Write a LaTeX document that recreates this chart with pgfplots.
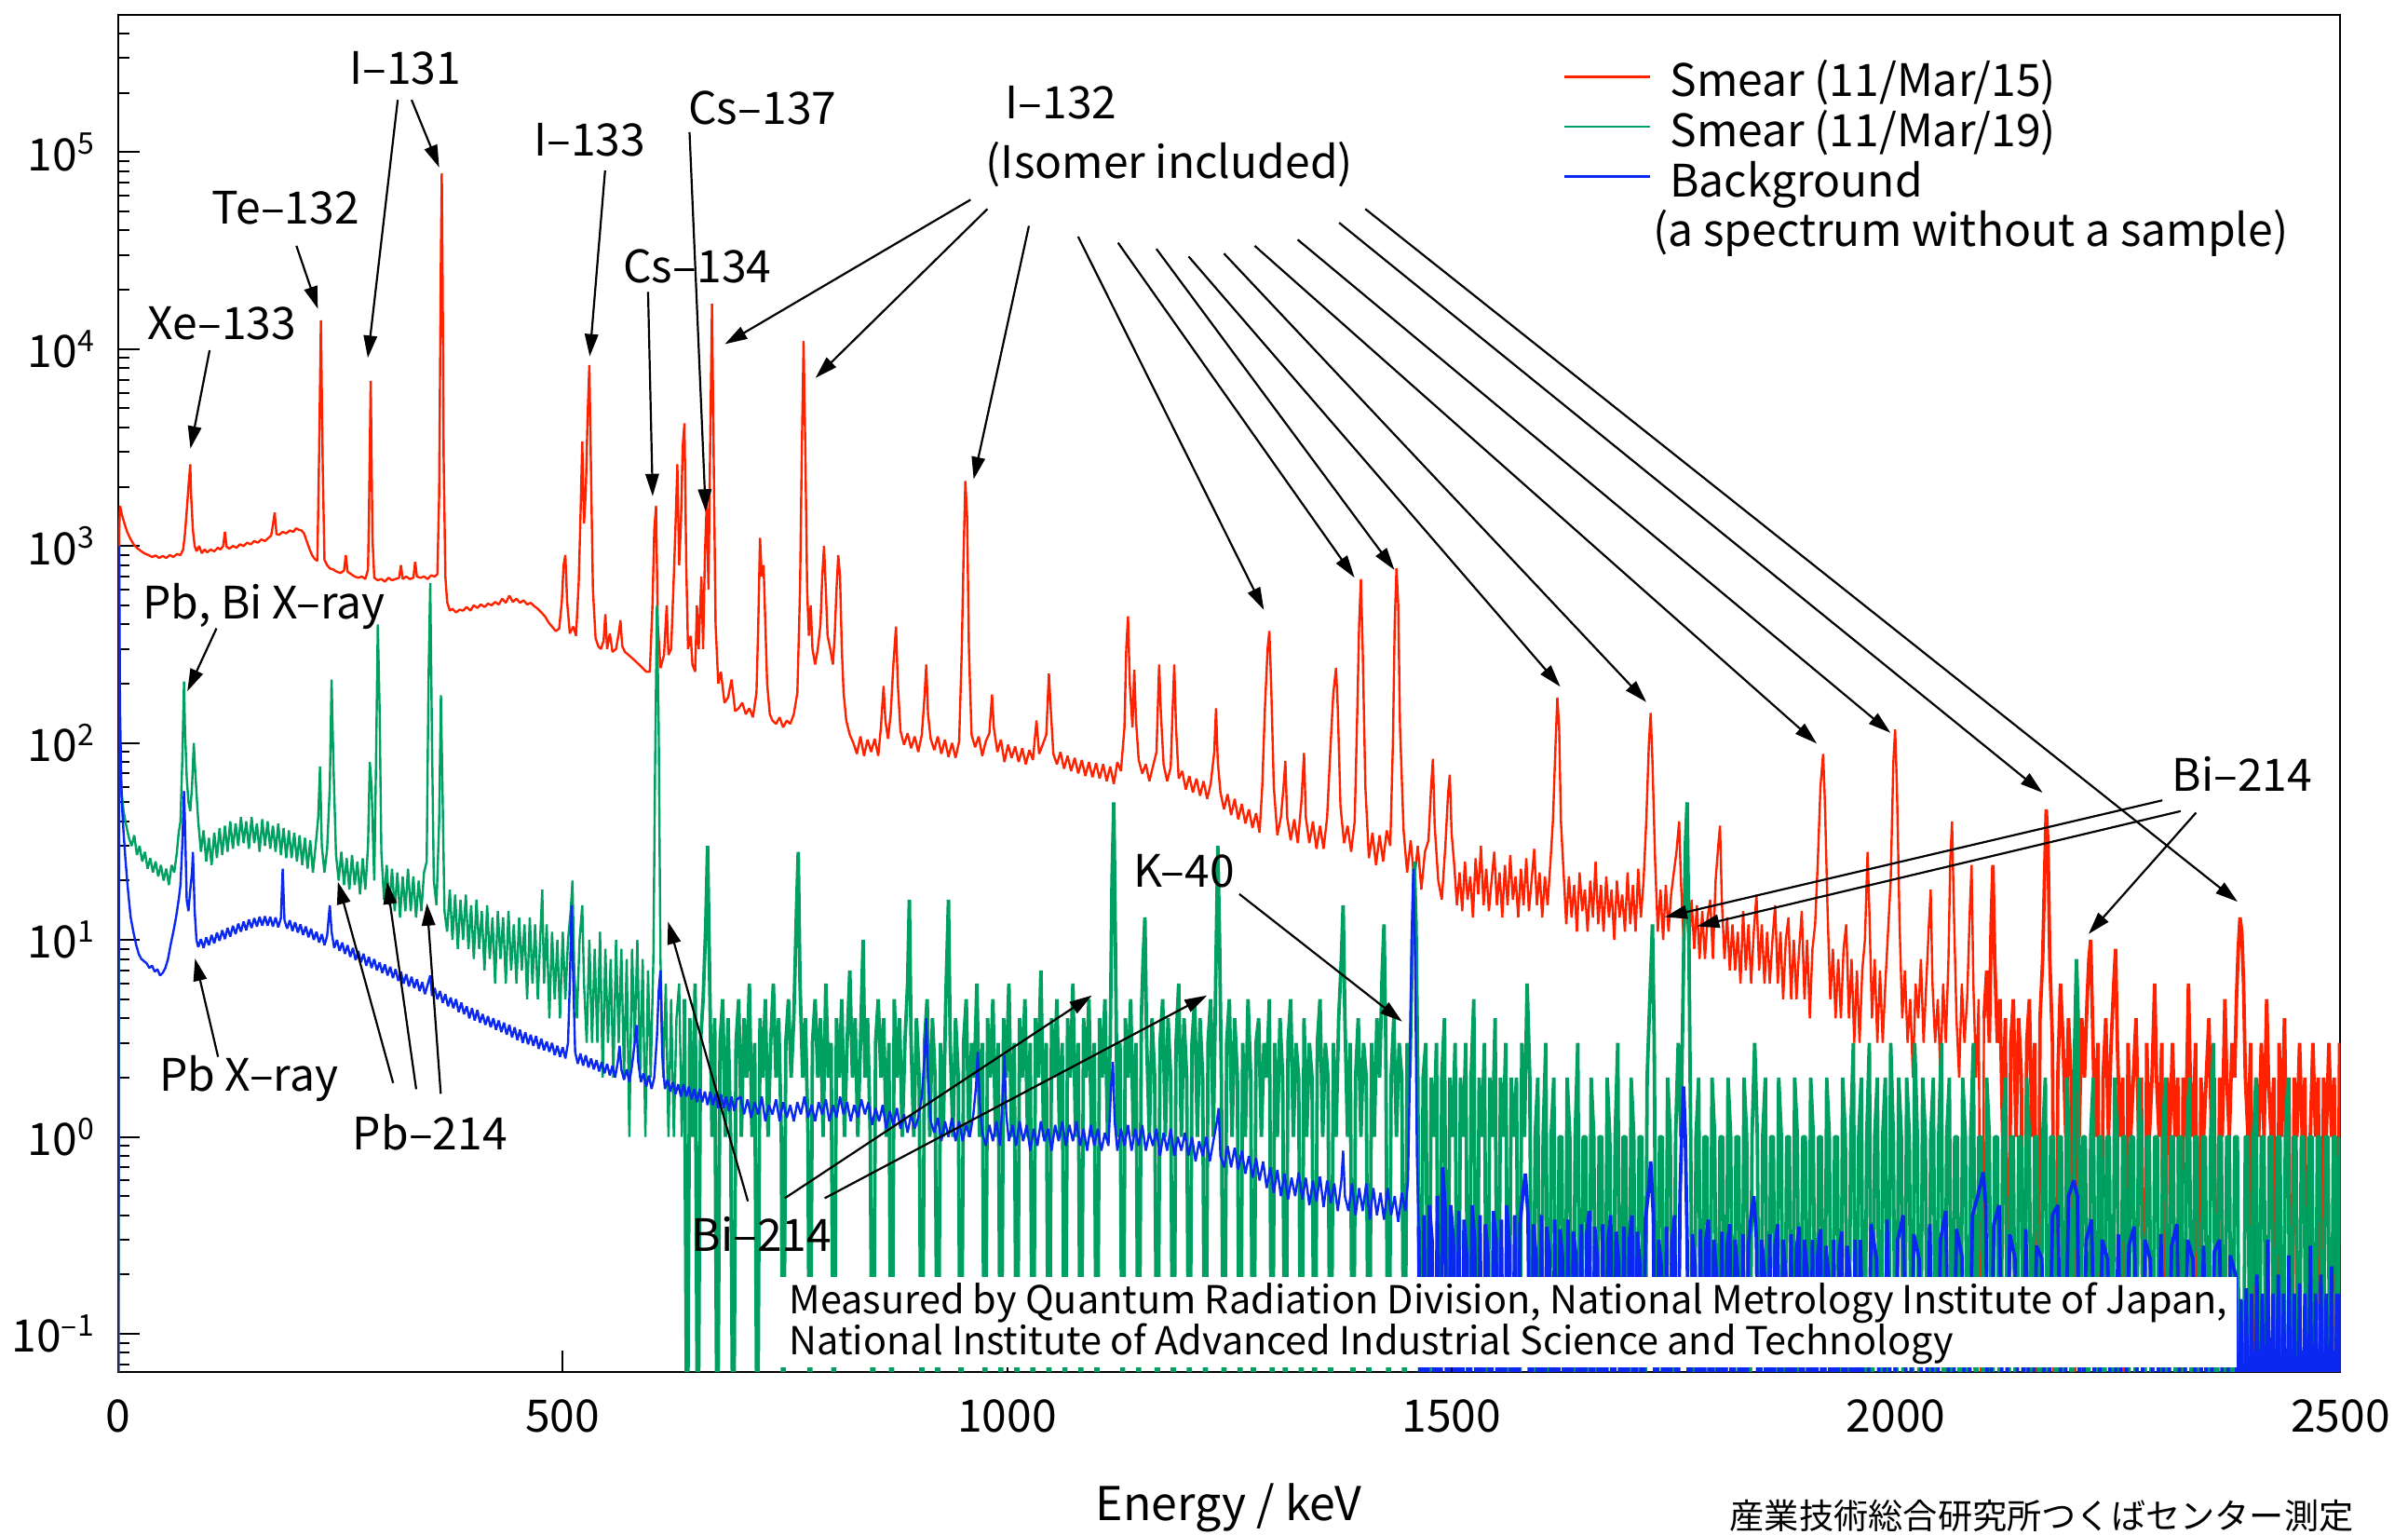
\documentclass[border=0pt]{standalone}
\usepackage{fontspec}
\setmainfont{Noto Sans CJK JP}
\usepackage{pgfplots}
\pgfplotsset{compat=1.18}
\usetikzlibrary{arrows.meta}
\definecolor{smearA}{HTML}{FF2200}
\definecolor{smearB}{HTML}{00A060}
\definecolor{bgblue}{HTML}{0A28F0}
\tikzset{ann/.style={-{Triangle[length=6pt,width=3.6pt]},line width=0.55pt,black}}
\begin{document}
\begin{tikzpicture}[font=\fontsize{12}{14}\selectfont]
\begin{axis}[
 at={(31.743pt,-368.14pt)},anchor=south west,
 scale only axis,width=596.53pt,height=364.02pt,
 xmin=0,xmax=2500,ymode=log,ymin=0.0641,ymax=4.95e5,
 axis line style={line width=0.5pt},
 tick pos=left,tick align=inside,
 major tick length=5.8pt,minor tick length=2.9pt,
 tick style={line width=0.5pt,black},
 xtick={0,500,1000,1500,2000,2500},xticklabels={0,500,1000,1500,2000,2500},
 ytick={0.1,1,10,100,1000,10000,100000},
 yticklabels={10\textsuperscript{--1},10\textsuperscript{0},10\textsuperscript{1},10\textsuperscript{2},10\textsuperscript{3},10\textsuperscript{4},10\textsuperscript{5}},
 minor ytick={0.07,0.08,0.09,0.2,0.3,0.4,0.5,0.6,0.7,0.8,0.9,2,3,4,5,6,7,8,9,20,30,40,50,60,70,80,90,200,300,400,500,600,700,800,900,2000,3000,4000,5000,6000,7000,8000,9000,20000,30000,40000,50000,60000,70000,80000,90000,200000,300000,400000},
 xticklabel style={yshift=-4pt},
 yticklabel style={xshift=-2.5pt},
 xlabel={Energy / keV},
 xlabel style={at={(rel axis cs:0.4997,0)},anchor=center,yshift=-36.6pt,inner sep=0pt,font=\fontsize{12.5}{14}\selectfont},
 legend style={draw=none,fill=none,at={(0.650,0.963)},anchor=north west,inner sep=0pt,
   row sep=2.4pt,column sep=5.0pt,nodes={inner sep=0pt,text height=8.2pt,text depth=2.8pt}},
 legend cell align=left,
 legend image code/.code={\draw[#1,line width=0.6pt] (0pt,2.7pt) -- (23pt,2.7pt);},
 every axis plot/.append style={line width=0.6pt,line join=bevel},
]
% Smear 11/Mar/15
\addplot[smearA] coordinates {
(0,0.01)(1,1200)(2,1600)(4,1450)(7,1300)(10,1180)(14,1080)(18,1010)(22,970)(26,940)(30,915)(34,900)(38,880)(42,895)(46,870)(50,890)(54,870)(58,900)(62,880)(66,910)(70,900)(73,960)(75,1150)(77,1500)(79,2000)(81,2600)(82,1800)(84,1200)(86,1000)(88,940)(91,1000)(94,920)(97,960)(100,930)
(104,960)(108,940)(112,980)(115,960)(118,1000)(120,1180)(122,990)(125,970)(129,1000)(133,980)(137,1020)(141,1000)(145,1040)(149,1020)(153,1060)(157,1040)(161,1080)(165,1060)(169,1100)(172,1130)(174,1280)(176,1480)(178,1150)(181,1140)(185,1180)(189,1160)(193,1200)(197,1180)(200,1230)
(203,1210)(206,1200)(209,1160)(212,1060)(215,970)(218,900)(221,860)(224,840)(226,3000)(228,14000)(230,2600)(232,850)(235,800)(238,770)(242,760)(246,740)(250,730)(254,750)(256,900)(258,740)(262,720)(266,700)(270,690)(274,700)(278,680)(281,760)(282,1400)(284,6900)(286,1100)(288,690)
(292,670)(296,680)(300,660)(304,690)(308,670)(312,680)(316,690)(318,800)(320,680)(324,700)(328,680)(332,690)(334,830)(336,700)(340,690)(344,700)(348,680)(352,710)(356,700)(359,720)(361,1800)(363,30000)(364,78000)(365,20000)(366,3000)(368,700)(370,520)(373,470)(376,480)(380,460)
(384,475)(388,470)(392,490)(396,470)(400,500)(404,485)(408,505)(412,490)(416,510)(420,500)(424,520)(428,505)(432,540)(436,515)(440,560)(444,520)(448,540)(452,515)(456,530)(460,505)(464,515)(468,495)(472,480)(476,460)(480,440)(484,410)(488,390)(492,370)(496,380)(499,520)(501,800)(503,900)
(505,520)(508,360)(512,390)(515,350)(518,650)(520,1400)(522,3400)(524,1300)(526,1900)(528,4500)(530,8300)(532,2200)(534,600)(537,340)(540,310)(543,300)(546,330)(548,450)(550,300)(553,360)(556,290)(560,300)(563,360)(565,420)(567,310)(570,290)(574,280)(578,270)(582,260)(586,250)(590,240)
(594,230)(598,230)(601,500)(603,1200)(605,1600)(607,400)(610,240)(614,280)(617,500)(619,280)(622,300)(625,700)(627,1300)(629,2600)(631,800)(633,1300)(635,3200)(637,4200)(639,800)(641,300)(644,350)(646,250)(649,230)(651,500)(653,300)(656,700)(658,300)(660,900)(662,1650)(664,600)
(666,3500)(668,17000)(670,2500)(672,400)(675,200)(678,230)(682,160)(686,170)(690,210)(694,145)(698,150)
(702,160)(706,140)(710,150)(714,135)(718,180)(720,400)(722,1100)(724,700)(726,800)(728,400)(730,200)(733,140)(736,130)(740,125)(744,135)(748,120)(752,130)(756,125)(760,140)(764,180)(767,600)(769,3000)(771,11000)(773,3000)(775,600)(777,350)(779,500)(781,300)(784,250)(787,300)
(790,400)(792,700)(794,1000)(796,600)(798,350)(801,300)(804,250)(806,350)(808,600)(810,900)(812,700)(814,300)(816,180)(819,130)(823,110)(827,100)(831,88)(835,108)(839,86)(843,104)(847,90)(851,105)(855,86)(858,120)(861,195)(863,130)(866,105)(869,140)(872,250)(875,390)(877,200)
(880,115)(884,98)(888,112)(892,94)(896,108)(900,90)(904,110)(907,170)(909,250)(911,140)(914,105)(918,92)(922,108)(926,88)(930,104)(934,85)(938,100)(942,84)(946,102)(949,300)(951,900)(953,2140)(955,1400)(957,300)(960,110)(964,95)(968,108)(972,86)(976,102)(980,112)(983,176)(985,120)
(989,90)(993,104)(997,80)(1001,98)(1005,84)(1009,96)(1013,80)(1017,94)(1021,78)(1025,92)(1029,82)(1033,130)(1036,88)(1040,98)(1044,110)(1047,225)(1049,150)(1052,88)(1056,78)(1060,90)(1064,74)(1068,86)(1072,72)(1076,84)(1080,70)(1084,82)(1088,68)(1092,80)(1096,67)(1100,79)(1104,66)
(1108,78)(1112,64)(1116,76)(1120,62)(1124,80)(1128,72)(1132,120)(1134,300)(1136,440)(1138,200)(1141,120)(1143,235)(1145,130)(1148,82)(1152,70)(1156,78)(1160,64)(1164,76)(1168,90)(1171,250)(1173,140)(1176,78)(1180,64)(1184,75)(1186,140)(1188,250)(1190,120)(1193,66)(1197,72)(1201,58)
(1205,68)(1209,56)(1213,66)(1217,54)(1221,64)(1225,52)(1229,62)(1233,90)(1235,150)(1237,80)(1240,56)(1244,46)(1248,55)(1252,43)(1256,52)(1260,41)(1264,49)(1268,39)(1272,46)(1276,37)(1280,44)(1284,35)(1287,60)(1290,150)(1293,300)(1295,370)(1297,200)(1300,60)(1304,34)(1308,42)(1311,60)
(1313,81)(1315,42)(1319,32)(1323,41)(1327,31)(1331,50)(1334,89)(1336,42)(1340,31)(1344,40)(1348,29)(1352,38)(1356,29)(1360,42)(1364,100)(1367,180)(1370,240)(1372,150)(1375,48)(1379,31)(1383,38)(1387,28)(1391,40)(1394,150)(1396,400)(1398,680)(1400,300)(1403,60)(1407,26)(1411,35)
(1415,24)(1419,34)(1423,25)(1427,36)(1431,30)(1434,100)(1436,400)(1438,770)(1440,500)(1442,120)(1446,36)(1450,22)(1454,32)(1458,20)(1462,30)(1466,18)(1470,28)(1474,32)(1477,60)(1479,83)(1481,38)(1485,20)(1489,16)(1493,30)(1496,55)(1498,69)(1500,35)
(1503,24)(1506,15)(1509,22)(1512,14)(1515,25)(1518,16)(1521,21)(1524,13)(1527,26)(1530,17)(1533,30)(1536,15)(1539,23)(1542,14)(1545,20)(1548,28)(1551,15)(1554,22)(1557,13)(1560,24)(1563,15)(1566,27)(1569,16)(1572,21)(1575,13)(1578,23)(1581,15)(1584,26)(1587,14)(1590,20)(1593,29)
(1596,15)(1599,22)(1602,13)(1605,21)(1608,15)(1611,24)(1614,40)(1617,100)(1619,170)(1621,120)(1623,40)(1626,22)(1629,12)(1632,21)(1635,13)(1638,19)(1641,11)(1644,22)(1647,14)(1650,18)(1653,11)(1656,20)(1659,13)(1662,25)(1665,12)(1668,19)(1671,11)(1674,21)(1677,13)(1680,18)(1683,10)
(1686,20)(1689,13)(1692,17)(1695,11)(1698,22)(1701,12)(1704,19)(1707,11)(1710,23)(1713,13)(1716,20)(1719,40)(1722,100)(1724,142)(1726,80)(1729,25)(1732,11)(1735,18)(1738,10)(1741,19)(1744,11)(1747,17)(1750,22)(1753,28)(1756,40)(1758,20)(1761,10)(1764,17)(1767,9)(1770,16)(1773,9)
(1776,15)(1779,8)(1782,14)(1785,8)(1788,13)(1791,16)(1794,8)(1797,20)(1800,30)(1802,38)(1804,16)(1807,8)(1810,13)(1813,7)(1816,12)(1819,7)(1822,11)(1825,6)(1828,14)(1831,7)(1834,12)(1837,6)(1840,11)(1843,17)(1846,7)(1849,12)(1852,6)(1855,11)(1858,6)(1861,10)(1864,15)(1867,6)
(1870,11)(1873,5)(1876,10)(1879,13)(1882,5)(1885,10)(1888,5)(1891,9)(1894,14)(1897,5)(1900,10)(1903,4)(1906,9)(1909,12)(1912,25)(1915,60)(1918,88)(1920,50)(1923,14)(1926,5)(1929,9)(1932,4)(1935,8)(1938,4)(1941,9)(1944,12)(1947,4)(1950,8)(1953,3)(1956,7)(1959,3)(1962,7)(1965,10)
(1968,28)(1970,14)(1973,4)(1976,8)(1979,3)(1982,7)(1985,3)(1988,6)(1991,11)(1994,20)(1997,80)(1999,117)(2001,60)(2004,12)(2007,4)
(2010,7)(2013,3)(2016,5)(2019,2)(2022,6)(2025,4)(2028,8)(2031,3)(2034,6)(2037,12)(2039,18)(2041,6)(2044,3)(2047,5)(2050,2)(2053,6)(2056,3)(2059,8)(2061,25)(2063,40)(2065,15)(2068,4)(2071,2)(2074,6)(2077,3)(2080,5)(2083,14)(2085,24)(2087,6)(2090,2)(2093,5)(2096,0.01)(2099,4)
};
\addlegendentry{Smear (11/Mar/15)}
\addplot[smearA,line width=0.95pt,forget plot] coordinates {
(2099,4)(2102,7)(2105,3)(2107,12)(2109,24)(2111,8)(2114,3)(2117,5)(2120,1)(2123,4)(2126,0.01)(2129,3)(2132,5)(2135,1)(2138,4)(2141,2)(2144,0.01)(2147,3)(2150,5)(2153,1)(2156,3)(2159,0.01)(2162,4)(2165,8)(2167,20)(2169,46)(2171,30)(2173,8)(2176,3)(2179,0.01)(2182,2)(2185,6)(2188,3)
(2191,1)(2194,4)(2197,2)(2200,0.01)(2203,3)(2206,1)(2209,4)(2212,2)(2215,5)(2217,8)(2219,10)(2221,4)(2224,1)(2227,3)(2230,0.01)(2233,2)(2236,4)(2239,1)(2242,3)(2245,6)(2247,9)(2249,3)(2252,1)(2255,2)(2258,0.01)(2261,3)(2264,1)(2267,2)(2270,4)(2273,1)(2276,2)(2279,0.01)
(2282,3)(2285,1)(2288,2)(2291,6)(2293,2)(2296,1)(2299,3)(2302,0.01)(2305,2)(2308,1)(2311,3)(2314,1)(2317,2)(2320,0.01)(2323,2)(2326,1)(2329,6)(2331,2)(2334,1)(2337,3)(2340,0.01)(2343,2)(2346,1)(2349,2)(2352,4)(2355,1)(2358,2)(2361,0.01)(2364,2)(2367,1)(2370,5)(2372,2)(2375,1)
(2378,3)(2381,2)(2383,5)(2385,9)(2387,13)(2389,11)(2391,6)(2393,2)(2396,1)(2399,3)(2402,0.01)(2405,2)(2408,1)(2411,3)(2414,1)(2417,5)(2419,2)(2422,1)(2425,2)(2428,0.01)(2431,3)(2434,1)(2437,4)(2439,1)(2442,2)(2445,0.01)(2448,2)(2451,1)(2454,3)(2457,1)(2460,2)(2463,0.01)
(2466,1)(2469,3)(2472,1)(2475,2)(2478,0.01)(2481,2)(2484,1)(2487,3)(2490,1)(2493,2)(2496,0.01)(2499,3)(2500,1)
};
% Smear 11/Mar/19
\addplot[smearB] coordinates {
(0,0.01)(1,90)(2,70)(4,55)(6,45)(9,38)(12,33)(15,30)(18,34)(21,27)(24,30)(27,25)(30,28)(33,23)(36,26)(39,22)(42,25)(45,21)(48,24)(51,20)(54,23)(57,19)(60,24)(63,22)(66,28)(68,35)(70,40)(72,80)(74,205)(75,120)(77,67)(79,50)(81,45)(83,60)(85,100)(86,80)
(88,56)(90,40)(93,28)(96,36)(99,25)(102,33)(105,24)(108,35)(111,26)(114,37)(117,27)(120,38)(123,28)(126,40)(129,29)(132,39)(135,30)(138,42)(141,31)(144,40)(147,29)(150,42)(153,31)(156,39)(159,28)(162,41)(165,30)(168,40)(171,29)(174,38)(177,28)(180,39)(183,27)(186,37)
(189,26)(192,36)(195,26)(198,35)(201,25)(204,34)(207,24)(210,33)(213,23)(216,32)(219,22)(222,30)(225,42)(227,76)(229,30)(232,22)(235,29)(238,60)(240,210)(242,80)(245,27)(248,20)(251,28)(254,19)(257,26)(260,18)(263,27)(266,19)(269,25)(272,17)(275,26)(278,18)(281,30)(283,80)
(285,60)(288,20)(290,80)(292,400)(294,150)(296,28)(299,16)(302,24)(305,15)(308,23)(311,14)(314,22)(317,13)(320,21)(323,14)(326,23)(329,14)(332,21)(335,13)(338,20)(341,14)(344,22)(347,25)(349,200)(351,650)(353,100)(355,20)(358,15)(361,40)(363,175)(365,50)(367,14)
(370,11)(373,18)(376,10)(379,17)(382,9)(385,16)(388,10)(391,17)(394,9)(397,15)(400,8)(403,16)(406,9)(409,14)(412,7)(415,15)(418,8)(421,13)(424,6)(427,14)(430,8)(433,13)(436,6)(439,14)(442,7)(445,12)(448,6)(451,13)(454,7)(457,12)(460,5)(463,13)(466,6)(469,12)(472,5)(475,11)
(477,18)(479,6)(482,12)(485,4)(488,11)(491,5)(494,10)(497,4)(500,11)(503,5)(506,10)(509,14)(511,20)(513,7)(516,4)(519,10)(522,15)(524,6)(527,3)(530,10)(533,3)(536,9)(539,3)(542,11)(545,2)(548,9)(551,3)(554,8)(557,2)(560,10)(563,3)(566,9)(569,2)(572,8)(575,1)(578,9)
(581,3)(584,10)(587,2)(590,8)(593,1)(596,7)(599,2)(602,8)(604,80)(606,500)(608,120)(610,8)(613,2)(616,6)(619,1)(622,5)(625,1)(628,4)(631,6)(634,1)(637,5)
};
\addlegendentry{Smear (11/Mar/19)}
\addplot[smearB,line width=0.95pt,forget plot] coordinates {
(637,5)(640,0.01)(643,4)(646,1)(649,6)(652,0.01)(655,3)(658,5)(661,12)(663,30)(665,8)(668,1)(671,4)(674,0.01)(677,3)(680,5)
(683,1)(686,4)(689,1)(692,0.01)(695,3)(698,5)
(701,1)(704,4)(707,2)(710,6)(713,1)(716,3)(719,0.01)(722,4)(725,2)(728,5)(731,1)(734,3)(737,6)(740,2)(743,4)(746,1)(748,0.01)(751,3)(754,5)(757,2)(760,4)(763,14)(765,28)(767,6)(770,2)(773,4)(776,1)(778,0.01)(781,3)(784,5)(787,2)(790,4)(793,1)(796,6)(799,2)(802,3)
(805,0.01)(808,4)(811,2)(814,5)(817,1)(820,3)(823,7)(826,2)(829,4)(832,1)(835,3)(838,10)(840,2)(843,4)(846,1)(849,0.01)(852,3)(855,5)(858,2)(861,4)(864,1)(867,3)(870,0.01)(873,5)(876,2)(879,4)(882,1)(885,3)(888,6)(890,16)(892,3)(895,1)(898,4)(901,2)(904,0.01)(907,3)
(910,5)(913,1)(916,4)(919,2)(922,0.01)(925,3)(928,1)(931,5)(934,16)(936,3)(939,1)(942,4)(945,2)(948,0.01)(951,3)(954,5)(957,1)(960,3)(963,2)(966,6)(969,1)(972,3)(975,0.01)(978,4)(981,2)(984,5)(987,1)(990,3)(993,0.01)(996,4)(999,2)(1002,6)(1005,1)(1008,3)(1011,0.01)
(1014,4)(1017,2)(1020,5)(1023,1)(1026,3)(1029,0.01)(1032,4)(1035,2)(1038,7)(1041,1)(1044,3)(1047,0.01)(1050,4)(1053,2)(1056,5)(1059,1)(1062,3)(1065,0.01)(1068,4)(1071,2)(1074,6)(1077,1)(1080,3)(1083,0.01)(1086,4)(1089,2)(1092,5)(1095,1)(1098,3)(1101,0.01)(1104,4)
(1107,2)(1110,5)(1113,1)(1116,3)(1118,20)(1120,50)(1122,8)(1124,1)(1127,3)(1130,0.01)(1133,4)(1136,2)(1139,5)(1142,1)(1145,3)(1148,0.01)(1151,4)(1153,8)(1155,13)(1157,3)(1160,1)(1163,4)(1166,2)(1169,0.01)(1172,3)(1175,5)(1178,1)(1181,4)(1184,2)(1187,0.01)(1190,3)
(1193,6)(1196,1)(1199,4)(1202,2)(1205,0.01)(1208,3)(1211,5)(1214,1)(1217,4)(1220,2)(1223,0.01)(1226,3)(1229,5)(1232,1)(1235,8)(1237,30)(1239,10)(1241,2)(1244,0.01)(1247,3)(1250,5)(1253,1)(1256,4)(1259,2)(1262,0.01)(1265,3)(1268,1)(1271,5)(1274,2)(1277,0.01)(1280,3)
(1283,4)(1286,1)(1289,3)(1292,2)(1295,5)(1298,0.01)(1301,3)(1304,1)(1307,4)(1310,2)(1313,0.01)(1316,3)(1319,5)(1322,1)(1325,3)(1328,2)(1331,0.01)(1334,4)(1337,1)(1340,3)(1343,2)(1346,0.01)(1349,3)(1352,5)(1355,1)(1358,3)(1361,2)(1364,0.01)(1367,3)(1370,1)(1373,4)
(1376,8)(1378,15)(1380,4)(1383,1)(1386,3)(1389,0.01)(1392,2)(1395,4)(1398,1)(1401,3)(1404,2)(1407,0.01)(1410,3)(1413,1)(1416,4)(1419,2)(1422,7)(1424,12)(1426,3)(1429,0.01)(1432,2)(1435,4)(1438,1)(1441,3)(1444,2)(1447,0.01)(1450,3)(1453,2)(1456,10)(1458,25)(1460,12)
(1462,2)(1465,0.01)(1468,2)(1471,3)(1474,0.01)(1477,2)(1480,1)(1483,3)(1486,0.01)(1489,2)(1492,4)(1495,0.01)(1498,2)(1501,1)(1504,3)(1507,0.01)(1510,2)(1513,1)(1516,3)(1519,0.01)(1522,2)(1525,5)(1528,0.01)(1531,2)(1534,1)(1537,3)(1540,0.01)(1543,2)(1546,1)(1549,4)
(1552,0.01)(1555,2)(1558,1)(1561,3)(1564,0.01)(1567,2)(1570,1)(1573,2)(1576,0.01)(1579,3)(1582,1)(1585,6)(1588,2)(1591,0.01)(1594,1)(1597,2)(1600,0.01)(1603,1)(1606,3)(1609,0.01)(1612,1)(1615,2)(1618,0.01)(1621,1)(1624,1)(1627,0.01)(1630,2)(1633,1)(1636,0.01)
(1639,1)(1642,3)(1645,0.01)(1648,1)(1651,1)(1654,0.01)(1657,2)(1660,1)(1663,0.01)(1666,1)(1669,1)(1672,0.01)(1675,2)(1678,1)(1681,0.01)(1684,1)(1687,3)(1690,0.01)(1693,1)(1696,1)(1699,0.01)(1702,2)(1705,1)(1708,0.01)(1711,1)(1714,1)(1717,0.01)(1720,2)(1723,5)
(1726,12)(1728,3)(1731,0.01)(1734,1)(1737,1)(1740,0.01)(1743,2)(1746,1)(1749,0.01)(1752,1)(1755,3)(1758,1)(1761,8)(1763,30)(1765,50)(1767,10)(1769,1)(1772,0.01)(1775,1)(1778,2)(1781,0.01)(1784,1)(1787,1)(1790,0.01)(1793,2)(1796,1)(1799,0.01)(1802,1)(1805,1)
(1808,0.01)(1811,2)(1814,1)(1817,0.01)(1820,1)(1823,1)(1826,0.01)(1829,2)(1832,1)(1835,0.01)(1838,1)(1841,3)(1844,1)(1847,0.01)(1850,1)(1853,2)(1856,0.01)(1859,1)(1862,1)(1865,0.01)(1868,2)(1871,1)(1874,0.01)(1877,1)(1880,1)(1883,0.01)(1886,2)(1889,1)(1892,0.01)
(1895,1)(1898,1)(1901,0.01)(1904,2)(1907,1)(1910,0.01)(1913,1)(1916,1)(1919,0.01)(1922,2)(1925,1)(1928,0.01)(1931,1)(1934,1)(1937,0.01)(1940,2)(1943,1)(1946,0.01)(1949,1)(1952,3)(1955,0.01)(1958,1)(1961,2)(1964,0.01)(1967,1)(1970,3)(1973,0.01)(1976,1)(1979,2)
(1982,0.01)(1985,1)(1988,2)(1991,0.01)(1994,3)(1997,1)(2000,0.01)(2003,2)(2006,1)(2009,0.01)(2012,2)(2015,1)(2018,0.01)(2021,3)(2024,1)(2027,0.01)(2030,2)(2033,1)(2036,0.01)(2039,1)(2042,2)(2045,0.01)(2048,1)(2051,3)(2054,0.01)(2057,1)(2060,2)(2063,0.01)(2066,1)
(2069,1)(2072,0.01)(2075,2)(2078,1)(2081,0.01)(2084,1)(2087,3)(2090,0.01)(2093,1)(2096,1)(2099,0.01)(2102,2)(2105,1)(2108,0.01)(2111,1)(2114,1)(2117,0.01)(2120,1)(2123,2)(2126,0.01)(2129,1)(2132,1)(2135,0.01)(2138,1)(2141,1)(2144,0.01)(2147,2)(2150,1)(2153,0.01)
(2156,1)(2159,1)(2162,0.01)(2165,1)(2168,2)(2171,0.01)(2174,1)(2177,1)(2180,0.01)(2183,1)(2186,1)(2189,0.01)(2192,2)(2195,1)(2198,0.01)(2201,3)(2203,8)(2205,4)(2207,0.01)(2210,1)(2213,1)(2216,0.01)(2219,1)(2222,2)(2225,0.01)(2228,1)(2231,1)(2234,0.01)(2237,1)
(2240,1)(2243,0.01)(2246,2)(2249,1)(2252,0.01)(2255,1)(2258,1)(2261,0.01)(2264,1)(2267,1)(2270,0.01)(2273,2)(2276,1)(2279,0.01)(2282,1)(2285,1)(2288,0.01)(2291,1)(2294,1)(2297,0.01)(2300,1)(2303,2)(2306,0.01)(2309,1)(2312,1)(2315,0.01)(2318,1)(2321,1)(2324,0.01)
(2327,1)(2330,2)(2333,0.01)(2336,1)(2339,1)(2342,0.01)(2345,1)(2348,1)(2351,0.01)(2354,1)(2357,3)(2360,0.01)(2363,1)(2366,1)(2369,0.01)(2372,1)(2375,1)(2378,0.01)(2381,1)(2384,1)(2387,0.01)(2390,0.01)(2393,1)(2396,1)(2399,0.01)(2402,1)(2405,2)(2408,0.01)(2411,1)
(2414,1)(2417,0.01)(2420,1)(2423,1)(2426,0.01)(2429,1)(2432,1)(2435,0.01)(2438,1)(2441,2)(2444,0.01)(2447,1)(2450,1)(2453,0.01)(2456,1)(2459,1)(2462,0.01)(2465,1)(2468,1)(2471,0.01)(2474,1)(2477,1)(2480,0.01)(2483,1)(2486,1)(2489,0.01)(2492,1)(2495,1)(2498,0.01)(2500,1)
};
% Background
\addplot[bgblue] coordinates {
(0,0.01)(1,1000)(2,150)(3,80)(4,50)(6,35)(8,26)(10,20)(12,16)(14,13)(17,11)(20,9.5)(23,8.5)(26,8)(29,7.8)(32,7.6)(35,7.2)(38,7.4)(41,6.9)(44,7.1)(47,6.6)(50,6.8)(53,7.2)(56,8)(59,9.5)(62,11)(65,13)(68,16)(70,19)(72,30)(74,57)(75,40)(77,16)(79,14)(81,18)(83,22)(84,28)(86,14)
(88,10)(90,9.2)(93,10.1)(96,9.1)(99,10.3)(102,9.4)(105,10.6)(108,9.6)(111,10.9)(114,9.9)(117,11.2)(120,10.1)(123,11.5)(126,10.4)(129,11.8)(132,10.7)(135,12.1)(138,11)(141,12.4)(144,11.2)(147,12.7)(150,11.5)(153,12.9)(156,11.7)(159,13.1)(162,11.8)(165,13.2)(168,11.8)
(171,13.1)(174,11.7)(177,13)(180,11.6)(183,12.9)(185,23)(187,12.6)(190,11.4)(193,12.6)(196,11.1)(199,12.3)(202,10.9)(205,12)(208,10.6)(211,11.7)(214,10.3)(217,11.4)(220,10)(223,11)(226,9.7)(229,10.7)(232,9.4)(235,10.5)(238,15)(240,11)(243,9.1)(246,10)(249,8.8)
(252,9.7)(255,8.5)(258,9.4)(261,8.2)(264,9.1)(267,7.9)(270,8.8)(273,7.7)(276,8.5)(279,7.4)(282,8.2)(285,7.2)(288,8)(291,7)(294,7.7)(297,6.8)(300,7.5)(303,6.6)(306,7.3)(309,6.4)(312,7.1)(315,6.2)(318,6.9)(321,6)(324,6.7)(327,5.8)(330,6.5)(333,5.7)(336,6.3)(339,5.5)
(342,6.1)(345,5.3)(348,5.9)(351,6.6)(353,5.2)(356,5.7)(359,5)(362,5.5)(365,4.8)(368,5.3)(371,4.6)(374,5.1)(377,4.5)(380,5)(383,4.3)(386,4.8)(389,4.2)(392,4.6)(395,4)(398,4.5)(401,3.9)(404,4.4)(407,3.8)(410,4.2)(413,3.7)(416,4.1)(419,3.6)(422,4)(425,3.5)(428,3.9)
(431,3.4)(434,3.8)(437,3.3)(440,3.7)(443,3.2)(446,3.6)(449,3.1)(452,3.5)(455,3)(458,3.4)(461,2.95)(464,3.3)(467,2.9)(470,3.25)(473,2.8)(476,3.15)(479,2.75)(482,3.05)(485,2.7)(488,3)(491,2.6)(494,2.9)(497,2.55)(500,2.85)(503,2.5)(506,3)(508,6)(510,15)(512,6)
(514,2.7)(517,2.35)(520,2.65)(523,2.3)(526,2.6)(529,2.25)(532,2.5)(535,2.2)(538,2.45)(541,2.15)(544,2.4)(547,2.1)(550,2.35)(553,2.05)(556,2.3)(559,2)(562,2.4)(564,2.9)(566,2.2)(569,1.95)(572,2.2)(575,1.9)(578,2.3)(581,3)(583,3.7)(585,2.4)(588,1.9)(591,2.1)
(594,1.8)(597,2.05)(600,1.75)(603,2)(606,3.2)(608,5.5)(610,7)(612,2.6)(615,1.75)(618,1.95)(621,1.7)(624,1.9)(627,1.65)(630,1.85)(633,1.6)(636,1.85)(639,1.6)(642,1.8)(645,1.55)(648,1.75)(651,1.5)(654,1.75)(657,1.5)(660,1.7)(663,1.45)(666,1.7)(669,1.45)(672,1.65)
(675,1.4)(678,1.65)(681,1.4)(684,1.6)(687,1.35)(690,1.6)(693,1.35)(696,1.55)
(700,1.6)(704,1.3)(708,1.55)(712,1.25)(716,1.5)(720,1.3)(724,1.6)(728,1.2)(732,1.45)(736,1.3)(740,1.55)(744,1.2)(748,1.5)(752,1.25)(756,1.45)(760,1.2)(764,1.5)(768,1.3)(772,1.6)(776,1.25)(780,1.45)(784,1.2)(788,1.5)(792,1.3)(796,1.55)(800,1.2)(804,1.45)(808,1.25)
(812,1.6)(816,1.3)(820,1.5)(824,1.2)(828,1.45)(832,1.25)(836,1.55)(840,1.3)(844,1.5)(848,1.15)(852,1.4)(856,1.2)(860,1.45)(864,1.1)(868,1.35)(872,1.15)(876,1.4)(880,1.1)(884,1.3)(888,1.05)(892,1.3)(896,1.1)(900,1.25)(904,1.6)(907,2.5)(909,4)(911,2)(914,1.2)
(918,1.05)(922,1.25)(926,0.95)(930,1.2)(934,1.0)(938,1.25)(942,0.95)(946,1.2)(950,0.95)(954,1.15)(958,1.0)(962,1.3)(965,1.8)(967,2.7)(969,1.5)(972,1.05)(976,0.9)(980,1.15)(984,0.95)(988,1.2)(992,0.9)(995,1.6)(997,2.6)(999,1.3)(1002,0.95)(1006,1.15)(1010,0.9)
(1014,1.2)(1018,0.95)(1022,1.15)(1026,0.85)(1030,1.1)(1034,0.9)(1038,1.2)(1042,0.95)(1046,1.1)(1050,0.85)(1054,1.15)(1058,0.95)(1062,1.2)(1066,0.9)(1070,1.15)(1074,0.95)(1078,1.2)(1082,0.9)(1086,1.1)(1090,0.85)(1094,1.15)(1098,0.9)(1102,1.1)(1106,0.85)(1110,1.05)
(1114,0.9)(1117,1.8)(1119,2.4)(1121,1.2)(1124,0.85)(1128,1.1)(1132,0.9)(1136,1.15)(1140,0.85)(1144,1.1)(1148,0.9)(1152,1.15)(1156,0.85)(1160,1.05)(1164,0.9)(1168,1.1)(1172,0.8)(1176,1.05)(1180,0.85)(1184,1.1)(1188,0.8)(1192,1.0)(1196,0.85)(1200,1.05)(1204,0.8)
(1208,1.0)(1212,0.75)(1216,0.95)(1220,0.8)(1224,1.0)(1228,0.75)(1232,0.95)(1236,1.2)(1238,1.4)(1240,0.8)(1244,0.7)(1248,0.9)(1252,0.7)(1256,0.88)(1260,0.68)(1264,0.85)(1268,0.65)(1272,0.8)(1276,0.62)(1280,0.78)(1284,0.6)(1288,0.75)(1292,0.55)(1296,0.7)(1300,0.52)
(1304,0.68)(1308,0.5)(1312,0.65)(1316,0.48)(1320,0.62)(1324,0.5)(1328,0.66)(1332,0.48)(1336,0.62)(1340,0.45)(1344,0.6)(1348,0.47)(1352,0.63)(1356,0.44)(1360,0.6)(1364,0.46)(1368,0.58)(1372,0.42)(1376,0.6)(1378,0.85)(1380,0.5)(1384,0.42)(1388,0.58)(1392,0.4)
(1396,0.55)(1400,0.42)(1404,0.58)(1408,0.38)(1412,0.55)(1416,0.4)(1420,0.52)(1424,0.38)(1428,0.55)(1432,0.4)(1436,0.5)(1440,0.37)(1444,0.52)(1448,0.42)(1451,0.6)(1453,2)(1455,10)(1457,23)(1459,8)(1461,0.8)(1463,0.35)
};
\addlegendentry{Background}
\addplot[bgblue,line width=0.95pt,forget plot] coordinates {
(1463,0.35)(1466,0.01)(1469,0.4)(1472,0.01)(1475,0.45)(1478,0.3)(1481,0.01)(1484,0.5)(1487,0.01)(1490,0.7)(1493,0.4)(1496,0.01)(1499,0.45)(1502,0.3)(1505,0.01)(1508,0.42)(1511,0.01)(1514,0.38)(1517,0.25)(1520,0.01)(1523,0.45)(1526,0.3)(1529,0.01)(1532,0.4)(1535,0.01)(1538,0.36)
(1541,0.25)(1544,0.01)(1547,0.42)(1550,0.3)(1553,0.01)(1556,0.38)(1559,0.01)(1562,0.45)(1565,0.28)(1568,0.01)(1571,0.4)(1574,0.01)(1577,0.36)(1580,0.5)(1583,0.65)(1586,0.4)(1589,0.01)(1592,0.36)(1595,0.25)(1598,0.01)(1601,0.4)(1604,0.01)(1607,0.35)(1610,0.26)
(1613,0.01)(1616,0.38)(1619,0.01)(1622,0.34)(1625,0.24)(1628,0.01)(1631,0.38)(1634,0.01)(1637,0.33)(1640,0.25)(1643,0.01)(1646,0.36)(1649,0.01)(1652,0.32)(1655,0.42)(1658,0.01)(1661,0.35)(1664,0.24)(1667,0.01)(1670,0.36)(1673,0.01)(1676,0.3)(1679,0.4)(1682,0.01)
(1685,0.33)(1688,0.23)(1691,0.01)(1694,0.35)(1697,0.01)(1700,0.3)(1703,0.4)(1706,0.01)(1709,0.33)(1712,0.22)(1715,0.01)(1718,0.38)(1721,0.5)(1724,0.75)(1727,0.4)(1730,0.01)(1733,0.3)(1736,0.22)(1739,0.01)(1742,0.35)(1745,0.01)(1748,0.3)(1751,0.4)(1754,0.01)
(1757,0.5)(1759,1.1)(1761,1.8)(1763,1.0)(1765,0.3)(1768,0.01)(1771,0.32)(1774,0.22)(1777,0.01)(1780,0.34)(1783,0.01)(1786,0.3)(1789,0.38)(1792,0.01)(1795,0.3)(1798,0.2)(1801,0.01)(1804,0.33)(1807,0.01)(1810,0.28)(1813,0.36)(1816,0.01)(1819,0.3)(1822,0.2)
(1825,0.01)(1828,0.32)(1831,0.01)(1834,0.28)(1837,0.4)(1840,0.5)(1843,0.3)(1846,0.01)(1849,0.3)(1852,0.2)(1855,0.01)(1858,0.32)(1861,0.01)(1864,0.28)(1867,0.36)(1870,0.01)(1873,0.3)(1876,0.2)(1879,0.01)(1882,0.32)(1885,0.01)(1888,0.27)(1891,0.35)(1894,0.01)
(1897,0.3)(1900,0.2)(1903,0.01)(1906,0.3)(1909,0.01)(1912,0.26)(1915,0.34)(1918,0.01)(1921,0.28)(1924,0.2)(1927,0.01)(1930,0.3)(1933,0.01)(1936,0.26)(1939,0.33)(1942,0.01)(1945,0.28)(1948,0.2)(1951,0.01)(1954,0.3)(1957,0.01)
(1960,0.3)(1966,0.01)(1972,0.36)(1978,0.24)(1984,0.01)(1990,0.38)(1996,0.01)(2002,0.3)(2008,0.4)(2014,0.01)(2020,0.32)(2026,0.24)(2032,0.01)(2038,0.36)(2044,0.01)(2050,0.3)(2056,0.42)(2062,0.01)(2068,0.34)(2074,0.25)(2080,0.01)(2086,0.4)(2092,0.5)(2098,0.66)
(2101,0.45)(2104,0.01)(2110,0.36)(2116,0.45)(2122,0.01)(2128,0.32)(2134,0.24)(2140,0.01)(2146,0.34)(2152,0.01)(2158,0.28)(2164,0.24)(2170,0.01)(2176,0.4)(2182,0.45)(2188,0.01)(2194,0.5)(2200,0.6)(2204,0.5)(2208,0.01)(2214,0.3)(2220,0.38)(2226,0.01)(2232,0.3)
(2238,0.24)(2244,0.01)(2250,0.32)(2256,0.01)(2262,0.28)(2268,0.35)(2274,0.01)(2280,0.3)(2286,0.24)(2292,0.01)(2298,0.32)(2304,0.01)(2310,0.28)(2316,0.36)(2322,0.01)(2328,0.3)(2334,0.24)(2340,0.01)(2346,0.28)(2352,0.01)(2358,0.26)(2364,0.3)(2370,0.01)(2376,0.25)
(2382,0.2)(2385,0.01)(2388,0.15)(2391,0.01)(2394,0.17)(2397,0.01)(2400,0.16)(2403,0.01)(2406,0.2)(2409,0.01)(2412,0.16)(2415,0.01)(2418,0.3)(2421,0.01)(2424,0.16)(2427,0.01)(2430,0.2)(2433,0.01)(2436,0.16)(2439,0.01)(2442,0.25)(2445,0.01)(2448,0.16)(2451,0.01)
(2454,0.18)(2457,0.01)(2460,0.16)(2463,0.01)(2466,0.28)(2469,0.01)(2472,0.16)(2475,0.01)(2478,0.2)(2481,0.01)(2484,0.16)(2487,0.01)(2490,0.22)(2493,0.01)(2496,0.16)(2499,0.01)(2500,0.16)
};
\addlegendimage{empty legend}
\addlegendentry{\hspace*{-4.5pt}(a spectrum without a sample)}
\end{axis}
% annotations, in pixel units of the 1568 x 999 reference view
\begin{scope}[x=0.41225pt,y=-0.41225pt]
\fill[white] (507,831) rectangle (1456.5,890);
\node[anchor=west,inner sep=0pt,font=\fontsize{10.35}{12}\selectfont] at (513.5,848) {Measured by Quantum Radiation Division, National Metrology Institute of Japan,};
\node[anchor=west,inner sep=0pt,font=\fontsize{10.35}{12}\selectfont] at (513.5,875) {National Institute of Advanced Industrial Science and Technology};
\node[anchor=east,inner sep=0pt,font=\fontsize{9.3}{11}\selectfont] at (1533,986.5) {産業技術総合研究所つくばセンター測定};
\begin{scope}[every node/.style={inner sep=0pt}]
\node at (264,44.5) {I--131};
\node at (186,135.5) {Te--132};
\node at (144.5,210.5) {Xe--133};
\node at (384,91) {I--133};
\node at (496.5,70) {Cs--137};
\node at (454,173.5) {Cs--134};
\node at (691,67) {I--132};
\node at (761.5,107) {(Isomer included)};
\node at (172,394.5) {Pb, Bi X--ray};
\node at (162,702) {Pb X--ray};
\node at (280,737) {Pb--214};
\node at (496,803.5) {Bi--214};
\node at (771,567) {K--40};
\node at (1460,504) {Bi--214};
\end{scope}
\draw[ann] (136.5,228) -- (124,292);
\draw[ann] (193,160) -- (207,201);
\draw[ann] (259,65) -- (239.5,233);
\draw[ann] (268,65) -- (286,109);
\draw[ann] (394,111) -- (384,232);
\draw[ann] (422,190) -- (425,323);
\draw[ann] (449,86) -- (459.5,333);
\draw[ann] (632,130) -- (472,224);
\draw[ann] (643,136) -- (531,246);
\draw[ann] (670,147) -- (634,312);
\draw[ann] (702,154) -- (823,397);
\draw[ann] (728,158) -- (882,376);
\draw[ann] (753,162) -- (908,371);
\draw[ann] (774,167) -- (1016,447);
\draw[ann] (797,165) -- (1072,457);
\draw[ann] (817,160) -- (1183,484);
\draw[ann] (845,156) -- (1231,477);
\draw[ann] (872,145) -- (1330,516);
\draw[ann] (889,136) -- (1457,587);
\draw[ann] (141,409) -- (122,450);
\draw[ann] (142,688) -- (127,624);
\draw[ann] (256,705) -- (220,574);
\draw[ann] (271,709) -- (252,574);
\draw[ann] (287,712) -- (278,588);
\draw[ann] (487,782) -- (435,600);
\draw[ann] (511,780) -- (711,648);
\draw[ann] (537,780) -- (786,648);
\draw[ann] (807,582) -- (913,665);
\draw[ann] (1408,521) -- (1084,597);
\draw[ann] (1420,528) -- (1105,603);
\draw[ann] (1430,529) -- (1360,608);
% fix the page to the reference frame
\pgfresetboundingbox
\path[use as bounding box] (0,0) rectangle (1568,999);
\end{scope}
\end{tikzpicture}
\end{document}
